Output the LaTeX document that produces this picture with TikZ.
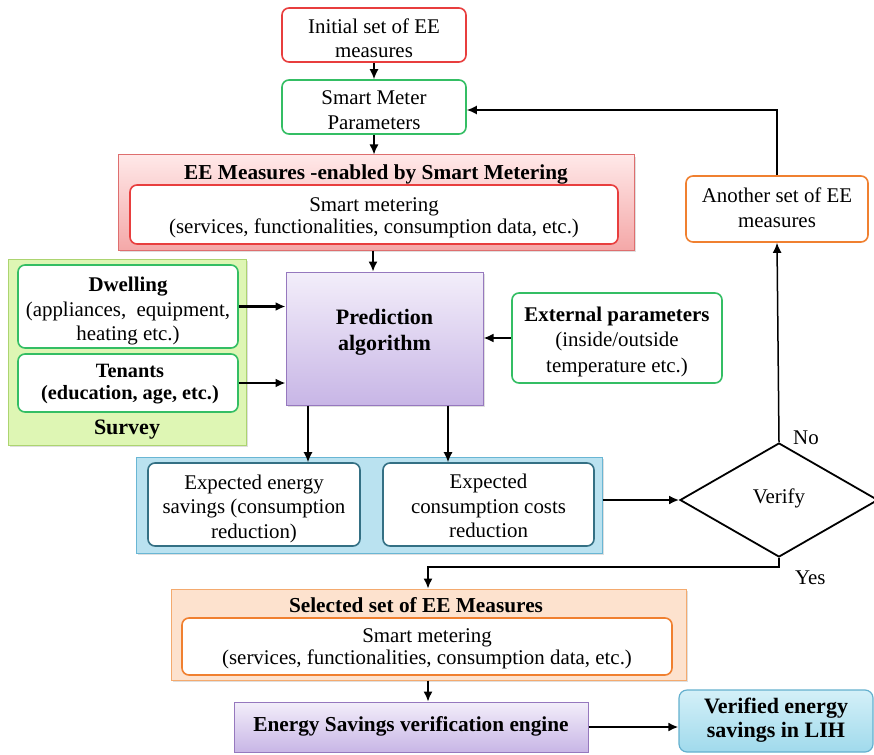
\documentclass[tikz,border=0pt]{standalone}
\usepackage{fontspec}
\setmainfont{Liberation Serif}
\usetikzlibrary{shapes.geometric,arrows.meta,shadows}

\definecolor{cRed}{RGB}{232,62,62}
\definecolor{cGreen}{RGB}{52,190,100}
\definecolor{cOrange}{RGB}{240,128,48}
\definecolor{cPurpleB}{RGB}{150,120,190}
\definecolor{cPurpleT}{RGB}{243,238,250}
\definecolor{cPurpleL}{RGB}{200,182,230}
\definecolor{cPinkT}{RGB}{255,232,232}
\definecolor{cPinkL}{RGB}{244,168,168}
\definecolor{cPinkB}{RGB}{222,110,110}
\definecolor{cSurveyF}{RGB}{222,246,180}
\definecolor{cSurveyB}{RGB}{172,212,112}
\definecolor{cBlueF}{RGB}{186,226,240}
\definecolor{cBlueB}{RGB}{105,182,212}
\definecolor{cTeal}{RGB}{52,112,132}
\definecolor{cOrangeF}{RGB}{253,226,206}
\definecolor{cOrangeB}{RGB}{244,170,110}
\definecolor{cVerT}{RGB}{212,240,248}
\definecolor{cVerL}{RGB}{160,218,236}
\definecolor{cVerB}{RGB}{100,176,206}

\tikzset{
  % text blocks; the argument is the line spacing
  txt/.style={font=\fontsize{20.9}{#1}\selectfont, align=center, inner sep=0pt},
  txt/.default=25,
  btxt/.style={font=\fontsize{21.3}{#1}\selectfont\bfseries, align=center, inner sep=0pt},
  btxt/.default=25,
  bx/.style={draw, line width=1.6pt, rounded corners=7pt, fill=white, inner sep=0pt},
  grp/.style={draw, line width=1pt, inner sep=0pt,
              drop shadow={shadow xshift=2pt, shadow yshift=-2pt, opacity=0.25}},
  purp/.style={draw=cPurpleB, line width=1pt, inner sep=0pt,
               top color=cPurpleT, bottom color=cPurpleL},
  arr/.style={-{Latex[length=10pt,width=9pt]}, line width=1.5pt, black},
  thk/.style={-{Latex[length=10pt,width=9pt]}, line width=2.4pt, black},
}

\begin{document}
\begin{tikzpicture}[x=1pt,y=-1pt]
\useasboundingbox (0,0) rectangle (874,754);

% ---------- group frames ----------
\node[grp, draw=cPinkB, top color=cPinkT, bottom color=cPinkL,
      minimum width=516, minimum height=95] (eeo) at (376,202.5) {};
\node[grp, draw=cSurveyB, fill=cSurveyF,
      minimum width=238, minimum height=186] (svy) at (127,352) {};
\node[grp, draw=cBlueB, fill=cBlueF,
      minimum width=466, minimum height=96] (blu) at (369,505) {};
\node[grp, draw=cOrangeB, fill=cOrangeF,
      minimum width=515, minimum height=91] (sel) at (428.5,634.5) {};

% ---------- boxes ----------
\node[bx, draw=cRed,    minimum width=184, minimum height=54] (init) at (374,35) {};
\node[bx, draw=cGreen,  minimum width=184, minimum height=54] (smp)  at (374,107) {};
\node[bx, draw=cRed,    minimum width=488, minimum height=59] (eei)  at (374,214.5) {};
\node[bx, draw=cGreen,  minimum width=220, minimum height=83] (dwl)  at (128,306.5) {};
\node[bx, draw=cGreen,  minimum width=220, minimum height=58] (ten)  at (128,383) {};
\node[purp, minimum width=197, minimum height=133,
      drop shadow={shadow xshift=2pt, shadow yshift=-2pt, opacity=0.25}] (prd) at (384.5,338.5) {};
\node[bx, draw=cGreen,  minimum width=210, minimum height=90] (ext)  at (617,338) {};
\node[bx, draw=cTeal,   minimum width=212, minimum height=83] (es)   at (254,504.5) {};
\node[bx, draw=cTeal,   minimum width=211, minimum height=83] (ec)   at (488.5,504.5) {};
\node[draw, line width=1.8pt, diamond, aspect=1.737, inner sep=0pt,
      minimum width=198, minimum height=114] (ver) at (779,500) {};
\node[bx, draw=cOrange, minimum width=182, minimum height=66] (ano)  at (777,209) {};
\node[bx, draw=cOrange, minimum width=490, minimum height=57] (seli) at (427,646.5) {};
\node[purp, minimum width=354, minimum height=50] (eng) at (411,727) {};
\node[draw=cVerB, line width=1.2pt, rounded corners=8pt, inner sep=0pt,
      top color=cVerT, bottom color=cVerL,
      minimum width=194, minimum height=62] (vfd) at (776,721) {};

% ---------- texts ----------
\node[txt=24.5] (init-t) at (374,38) {Initial set of EE\\measures};
\node[txt=25]   (smp-t)  at (374,110.3) {Smart Meter\\Parameters};
\node[btxt]     (eeo-t)  at (376,174.9) {EE Measures -enabled by Smart Metering};
\node[txt=22]   (eei-t)  at (374,218) {Smart metering\\(services, functionalities, consumption data, etc.)};
\node[txt=24.5] (dwl-t)  at (128,311.5) {\textbf{Dwelling}\\(appliances,\ \ equipment,\\heating etc.)};
\node[btxt=22, font=\fontsize{20.3}{22}\selectfont\bfseries] (ten-t) at (130,384) {Tenants\\(education, age, etc.)};
\node[btxt, font=\fontsize{22}{25}\selectfont\bfseries] (svy-t) at (127,429.8) {Survey};
\node[btxt=26, font=\fontsize{22}{26}\selectfont\bfseries] (prd-t) at (384.5,331.8) {Prediction\\algorithm};
\node[txt=25.5] (ext-t)  at (617,341.5) {\textbf{External parameters}\\(inside/outside\\temperature etc.)};
\node[txt=24.5] (es-t)   at (254,508.5) {Expected energy\\savings (consumption\\reduction)};
\node[txt=24.5] (ec-t)   at (488.5,506.3) {Expected\\consumption costs\\reduction};
\node[txt]      (ver-t)  at (779,498) {Verify};
\node[txt=25]   (ano-t)  at (777,208) {Another set of EE\\measures};
\node[txt, anchor=west] (no)  at (793,437.8) {No};
\node[txt, anchor=west] (yes) at (795,577.8) {Yes};
\node[btxt]     (sel-t)  at (416,605.3) {Selected set of EE Measures};
\node[txt=22]   (seli-t) at (427,649) {Smart metering\\(services, functionalities, consumption data, etc.)};
\node[btxt]     (eng-t)  at (411,726.5) {Energy Savings verification engine};
\node[btxt=24, font=\fontsize{22}{24}\selectfont\bfseries] (vfd-t) at (776,719.8) {Verified energy\\savings in LIH};

% ---------- connectors ----------
\draw[arr] (init.south) -- (smp.north);
\draw[arr] (smp.south) -- (eeo.north -| smp.south);
\coordinate (pc) at (373,0);
\draw[arr] (pc |- eeo.south) -- (pc |- prd.north);
\draw[thk] (dwl.east) -- (dwl.east -| prd.west);
\draw[thk] (ten.east) -- (ten.east -| prd.west);
\draw[thk] (ext.west) -- (ext.west -| prd.east);
\coordinate (p1) at (308,0);
\coordinate (p2) at (448,0);
\draw[arr] (p1 |- prd.south) -- (p1 |- es.north);
\draw[arr] (p2 |- prd.south) -- (p2 |- ec.north);
\draw[thk] (blu.east |- ver.west) -- (ver.west);
\draw[arr] (ver.north) -- (ano.south);
\coordinate (lp) at (777,110);
\draw[arr] (ano.north) -- (lp) -- (lp -| smp.east);
\coordinate (yb) at (779,567);
\coordinate (sx) at (428,0);
\draw[arr] (ver.south) -- (yb) -- (yb -| sx) -- (sx |- sel.north);
\draw[arr] (sx |- sel.south) -- (sx |- eng.north);
\draw[thk] (eng.east) -- (eng.east -| vfd.west);
\end{tikzpicture}
\end{document}
